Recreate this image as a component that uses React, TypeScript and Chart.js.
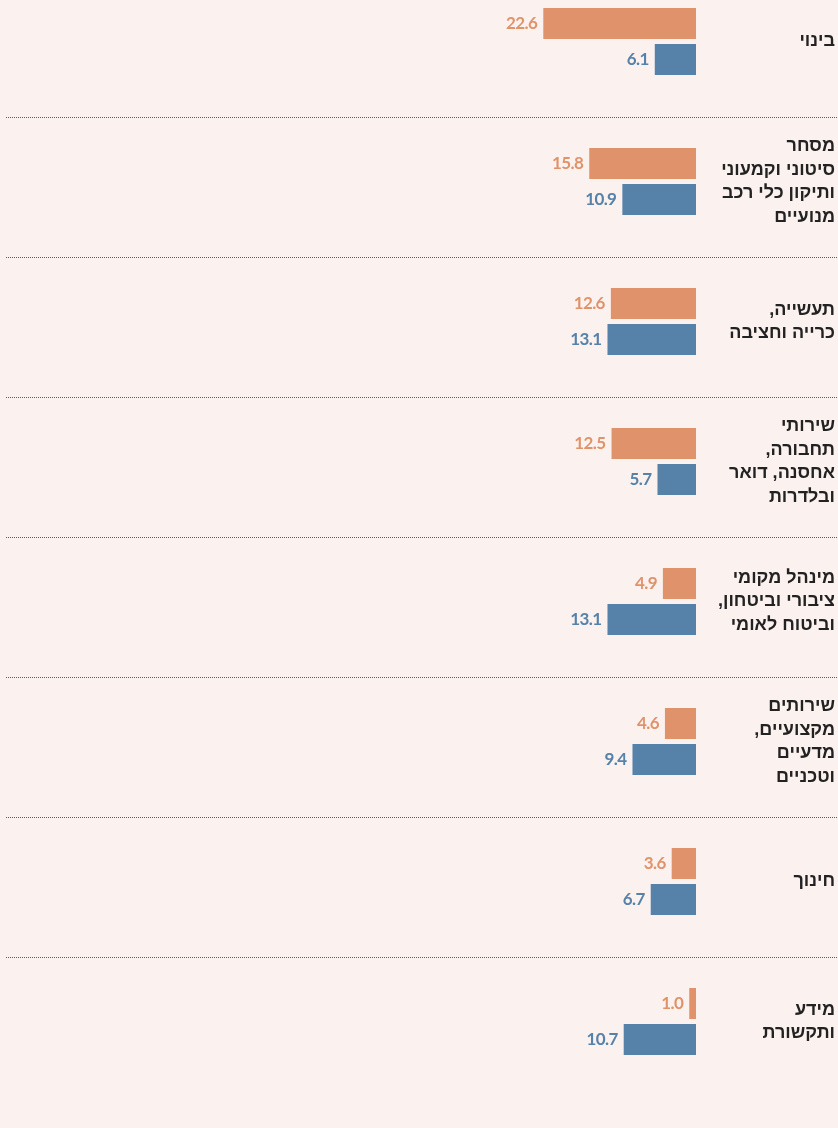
import React, { useEffect, useRef } from "react";
import { Chart, registerables } from "chart.js";

Chart.register(...registerables);

const categories: string[][] = [
  ["בינוי"],
  ["מסחר", "סיטוני וקמעוני", "ותיקון כלי רכב", "מנועיים"],
  ["תעשייה,", "כרייה וחציבה"],
  ["שירותי", "תחבורה,", "אחסנה, דואר", "ובלדרות"],
  ["מינהל מקומי", "ציבורי וביטחון,", "וביטוח לאומי"],
  ["שירותים", "מקצועיים,", "מדעיים", "וטכניים"],
  ["חינוך"],
  ["מידע", "ותקשורת"],
];

const orangeValues = [22.6, 15.8, 12.6, 12.5, 4.9, 4.6, 3.6, 1.0];
const blueValues = [6.1, 10.9, 13.1, 5.7, 13.1, 9.4, 6.7, 10.7];

const ORANGE = "#E0936B";
const BLUE = "#5682AA";
const BG = "#FBF2EF";

const W = 838;
const H = 1128;

export default function App() {
  const ref = useRef<HTMLCanvasElement | null>(null);

  useEffect(() => {
    document.body.style.margin = "0";
    document.body.style.background = BG;
    const canvas = ref.current;
    if (!canvas) return;

    const decorPlugin = {
      id: "decor",
      beforeDraw(chart: any) {
        const ctx = chart.ctx;
        ctx.save();
        ctx.fillStyle = BG;
        ctx.fillRect(0, 0, chart.width, chart.height);
        ctx.restore();
      },
      afterDatasetsDraw(chart: any) {
        const ctx = chart.ctx;
        const yScale = chart.scales.y;
        ctx.save();
        // separators
        ctx.strokeStyle = "#5a5a5a";
        ctx.lineWidth = 1;
        ctx.setLineDash([1, 1]);
        for (let i = 0; i < categories.length - 1; i++) {
          const y = yScale.getPixelForValue(i) + 76;
          const yy = Math.floor(y) + 0.5;
          ctx.beginPath();
          ctx.moveTo(6, yy);
          ctx.lineTo(W, yy);
          ctx.stroke();
        }
        ctx.setLineDash([]);

        // category labels
        ctx.fillStyle = "#222222";
        ctx.font = "bold 18px 'Liberation Sans', Arial, sans-serif";
        ctx.textAlign = "right";
        ctx.textBaseline = "middle";
        (ctx as any).direction = "rtl";
        const lh = 23.5;
        categories.forEach((lines, i) => {
          const cy = yScale.getPixelForValue(i);
          const start = cy - ((lines.length - 1) * lh) / 2;
          lines.forEach((line, j) => {
            ctx.fillText(line, 835, start + j * lh);
          });
        });
        (ctx as any).direction = "ltr";

        // value labels
        ctx.font = "bold 17px Lato, 'Open Sans', sans-serif";
        (ctx as any).letterSpacing = "-0.6px";
        ctx.textAlign = "right";
        ctx.textBaseline = "middle";
        chart.data.datasets.forEach((ds: any, di: number) => {
          const meta = chart.getDatasetMeta(di);
          ctx.fillStyle = ds.backgroundColor;
          meta.data.forEach((bar: any, idx: number) => {
            const v = ds.data[idx];
            const left = Math.min(bar.x, bar.base);
            ctx.fillText(v.toFixed(1), left - 6, bar.y);
          });
        });
        (ctx as any).letterSpacing = "0px";
        ctx.restore();
      },
    };

    const chart = new Chart(canvas, {
      type: "bar",
      data: {
        labels: categories.map((c) => c.join(" ")),
        datasets: [
          {
            label: "orange",
            data: orangeValues,
            backgroundColor: ORANGE,
            categoryPercentage: 72 / 140,
            barPercentage: 31 / 36,
            clip: false as any,
          },
          {
            label: "blue",
            data: blueValues,
            backgroundColor: BLUE,
            categoryPercentage: 72 / 140,
            barPercentage: 31 / 36,
            clip: false as any,
          },
        ],
      },
      options: {
        indexAxis: "y",
        animation: false,
        responsive: false,
        maintainAspectRatio: false,
        devicePixelRatio: 1,
        layout: {
          padding: { left: 0, right: W - 696, top: 41.5, bottom: H - 1021.5 },
        },
        plugins: {
          legend: { display: false },
          tooltip: { enabled: false },
        },
        scales: {
          x: {
            display: false,
            reverse: true,
            min: 0,
            max: 103,
          },
          y: {
            display: false,
            offset: false,
          },
        },
      },
      plugins: [decorPlugin],
    });

    return () => {
      chart.destroy();
    };
  }, []);

  return (
    <div style={{ width: W, height: H, background: BG }}>
      <canvas ref={ref} width={W} height={H} style={{ display: "block" }} />
    </div>
  );
}
